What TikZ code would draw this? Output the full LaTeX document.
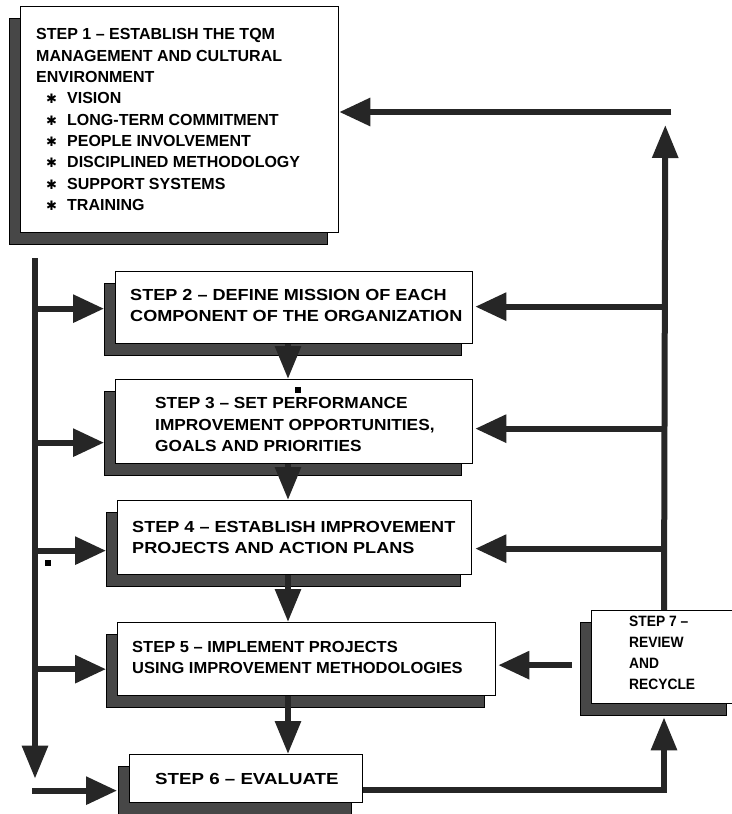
\documentclass[tikz,border=0pt]{standalone}
\usepackage{fontspec}
\setmainfont{Liberation Sans}
\newfontfamily\plainface{Liberation Sans}
\newfontfamily\faceA[FakeStretch=1.03]{Liberation Sans}
\newfontfamily\faceB[FakeStretch=1.08]{Liberation Sans}
\newfontfamily\faceC[FakeStretch=1.13]{Liberation Sans}
\newfontfamily\faceD[FakeStretch=1.17]{Liberation Sans}
\newfontfamily\narrowface[FakeStretch=0.92]{Liberation Sans}
\newfontfamily\symface{DejaVu Sans}
\usetikzlibrary{arrows.meta,shadows,calc}

% bullet line of the first step
\newcommand\bitem[1]{\hspace*{10pt}\makebox[21pt][l]{\symface\fontsize{13}{13}\selectfont ✱}#1}
\newcommand\stepfont[1]{#1\bfseries\fontsize{16}{21.3}\selectfont}

\tikzset{
  stepbox/.style={draw=black, line width=1.3pt, fill=white, inner sep=0pt, anchor=north west,
    general shadow={fill=black!72, draw=black, line width=1pt,
      shadow xshift=-11pt, shadow yshift=-12pt}},
  steptext/.style={anchor=west, align=left, inner sep=0pt},
  flow/.style={draw=black!85, line width=6pt, line join=miter,
    -{Triangle[length=31pt,width=27pt]}},
  downflow/.style={flow, -{Triangle[length=33pt,width=25pt]}},
}

\begin{document}
\begin{tikzpicture}[x=1pt,y=-1pt]
\fill[white] (0,0) rectangle (731,814);
\useasboundingbox (0,0) rectangle (731,814);

% ---- step boxes ----
\node[stepbox, minimum width=318pt, minimum height=226pt] (s1) at (20,6) {};
\node[stepbox, minimum width=357pt, minimum height=72pt]  (s2) at (115,271) {};
\node[stepbox, minimum width=357pt, minimum height=84pt]  (s3) at (115,379) {};
\node[stepbox, minimum width=354pt, minimum height=74pt]  (s4) at (117,500) {};
\node[stepbox, minimum width=378pt, minimum height=73pt]  (s5) at (117,622) {};
\node[stepbox, minimum width=233pt, minimum height=48pt]  (s6) at (129,754) {};
\node[stepbox, minimum width=146pt, minimum height=93pt]  (s7) at (591,610) {};

% ---- texts ----
\node[steptext, font=\stepfont\plainface] (t1)
  at ($(s1.west)+(16,0)$)
  {STEP 1 – ESTABLISH THE TQM\\
   MANAGEMENT AND CULTURAL\\
   ENVIRONMENT\\
   \bitem{VISION}\\
   \bitem{LONG-TERM COMMITMENT}\\
   \bitem{PEOPLE INVOLVEMENT}\\
   \bitem{DISCIPLINED METHODOLOGY}\\
   \bitem{SUPPORT SYSTEMS}\\
   \bitem{TRAINING}};
\node[steptext, font=\stepfont\faceC] (t2) at ($(s2.west)+(15,-2)$)
  {STEP 2 – DEFINE MISSION OF EACH\\ COMPONENT OF THE ORGANIZATION};
\node[steptext, font=\stepfont\faceB] (t3) at ($(s3.west)+(40,3)$)
  {STEP 3 – SET PERFORMANCE\\ IMPROVEMENT OPPORTUNITIES,\\ GOALS AND PRIORITIES};
\node[steptext, font=\stepfont\faceC] (t4) at ($(s4.west)+(15,0)$)
  {STEP 4 – ESTABLISH IMPROVEMENT\\ PROJECTS AND ACTION PLANS};
\node[steptext, font=\stepfont\faceA] (t5) at ($(s5.west)+(15,-2)$)
  {STEP 5 – IMPLEMENT PROJECTS\\ USING IMPROVEMENT METHODOLOGIES};
\node[steptext, font=\stepfont\faceD] (t6) at ($(s6.west)+(26,0)$) {STEP 6 – EVALUATE};
\node[steptext, font=\narrowface\bfseries\fontsize{15}{21}\selectfont] (t7)
  at ($(s7.west)+(38,-4)$) {STEP 7 –\\ REVIEW\\ AND\\ RECYCLE};

% ---- left trunk and its branches ----
\coordinate (L0) at ($(s1.south west)+(15,25)$);
\coordinate (L1) at ($(s6.west)+(-94,0)$);
\draw[downflow] (L0) -- (L1);
\coordinate (a2) at ($(s2.west)+(-11,1)$);
\coordinate (a3) at ($(s3.west)+(-11,21)$);
\coordinate (a4) at ($(s4.west)+(-11,13)$);
\coordinate (a5) at ($(s5.west)+(-11,10)$);
\coordinate (a6) at ($(s6.west)+(-12,12)$);
\foreach \t in {a2,a3,a4,a5}{\draw[flow] (L0 |- \t) -- (\t);}
\draw[flow] ($(L0 |- a6)+(-3,0)$) -- (a6);

% ---- downward chain ----
\coordinate (dx) at (288,0);
\draw[downflow] (dx |- s2.south) -- (dx |- s3.north);
\draw[downflow] (dx |- s3.south) -- (dx |- s4.north);
\draw[downflow] (dx |- s4.south) -- (dx |- s5.north);
\draw[downflow] (dx |- s5.south) -- (dx |- s6.north);

% ---- evaluate to review ----
\coordinate (R0) at ($(s7.north west)+(73,0)$);
\coordinate (e6) at ($(s6.east)+(0,11)$);
\coordinate (e7) at ($(R0 |- s7.south)+(0,13)$);
\draw[downflow] (e6) -| (e7);

% ---- right trunk: review feeds back ----
\coordinate (R1) at ($(s1.north east)+(326,119)$);
\draw[downflow] (R0) -- (R1);
\coordinate (H0) at ($(R1)+(6,-13)$);
\draw[flow] (H0) -- (H0 -| s1.east);
\coordinate (b2) at ($(s2.east)+(2,-1)$);
\coordinate (b3) at ($(s3.east)+(2,7)$);
\coordinate (b4) at ($(s4.east)+(3,11)$);
\foreach \t in {b2,b3,b4}{\draw[flow] (R0 |- \t) -- (\t);}
\coordinate (b5) at ($(s5.east)+(2,6)$);
\draw[flow] ($(s7.west |- b5)+(-19,0)$) -- (b5);

% ---- small specks ----
\fill (45,560) rectangle (51,566);
\fill (295,387) rectangle (301,393);
\end{tikzpicture}
\end{document}
